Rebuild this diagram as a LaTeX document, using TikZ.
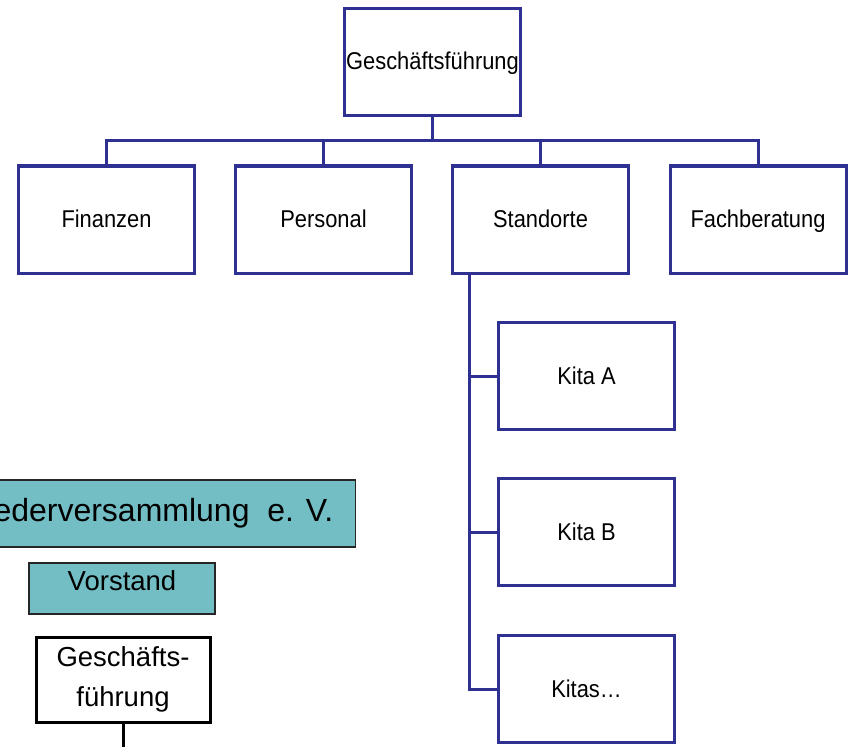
\documentclass[tikz,border=0pt]{standalone}
\usepackage{fontspec}
\setmainfont{Liberation Sans}
\newfontfamily\narrowfont[FakeStretch=0.9]{Liberation Sans}
\definecolor{navy}{RGB}{46,49,146}
\definecolor{tealbox}{RGB}{114,190,196}
\begin{document}
\begin{tikzpicture}[x=1pt,y=-1pt,
  orgbox/.style={draw=navy,line width=3pt,fill=white,minimum width=176pt,minimum height=107pt,inner sep=0pt,text height=21pt,text depth=5pt,font=\narrowfont\fontsize{24.3}{29}\selectfont},
  link/.style={draw=navy,line width=3pt},
  tealnode/.style={draw=black!85,line width=1.5pt,fill=tealbox,inner sep=0pt},
]
\useasboundingbox (0,0) rectangle (850,746);
\clip (0,0) rectangle (850,746);
% top tree
\node[orgbox] (gf)   at (432.5,62)  {Geschäftsführung};
\node[orgbox] (fin)  at (106.5,219.5) {Finanzen};
\node[orgbox] (pers) at (323.5,219.5) {Personal};
\node[orgbox] (std)  at (540.5,219.5) {Standorte};
\node[orgbox] (fach) at (758,219.5) {Fachberatung};
\node[orgbox] (ka) at (586.5,376) {Kita A};
\node[orgbox] (kb) at (586.5,532) {Kita B};
\node[orgbox] (kc) at (586.5,689) {Kitas\dots};
\coordinate (trunk) at ([xshift=18pt]std.south west);
\draw[link] (gf.south) -- ++(0,23);
\draw[link] (fin.north) -- ++(0,-24) -| (fach.north);
\draw[link] (pers.north) -- ++(0,-24);
\draw[link] (std.north) -- ++(0,-24);
\draw[link] (trunk) |- (kc.west);
\draw[link] (ka.west) -- (ka.west -| trunk);
\draw[link] (kb.west) -- (kb.west -| trunk);
% left part
\node[tealnode,anchor=east,minimum height=67pt,inner xsep=22pt,text height=23pt,text depth=8pt,font=\fontsize{32}{36}\selectfont] (mv) at (356,513.5) {Mitgliederversammlung\ \ e. V.};
\node[tealnode,minimum width=186pt,minimum height=51pt,text height=20pt,text depth=16pt,font=\fontsize{27.5}{32}\selectfont] (vs) at (122,588.5) {Vorstand};
\node[draw=black,line width=3pt,fill=white,minimum width=174pt,minimum height=85pt,inner sep=0pt,align=center,font=\fontsize{27.5}{40}\selectfont] (gf2) at (123,679.5) {\raisebox{-2pt}{Geschäfts-}\\\raisebox{-2pt}{führung}};
\draw[black,line width=3pt] (gf2.south) -- ++(0,26);
\end{tikzpicture}
\end{document}
